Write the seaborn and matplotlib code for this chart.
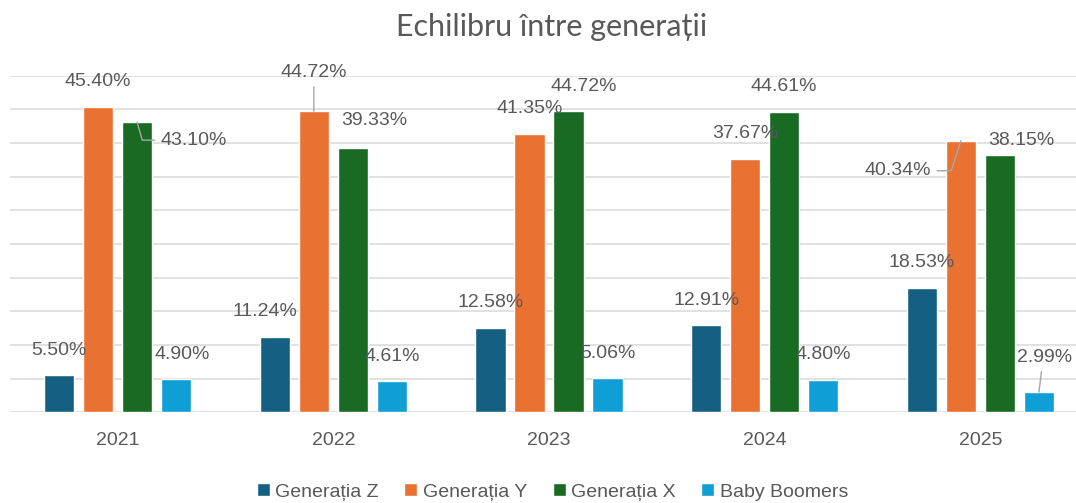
import matplotlib

matplotlib.use("Agg")
import matplotlib.pyplot as plt
import numpy as np
import pandas as pd
import seaborn as sns

YEARS = ["2021", "2022", "2023", "2024", "2025"]
GENERATIONS = ["Generația Z", "Generația Y", "Generația X", "Baby Boomers"]
GEN_Z = [5.50, 11.24, 12.58, 12.91, 18.53]
GEN_Y = [45.40, 44.72, 41.35, 37.67, 40.34]
GEN_X = [43.10, 39.33, 44.72, 44.61, 38.15]
BOOMERS = [4.90, 4.61, 5.06, 4.80, 2.99]

COLORS = ["#156082", "#E97132", "#196B24", "#0F9ED5"]
TEXT = "#595959"
GRID = "#D9D9D9"

# label offsets in pixels (dx, dy) for labels that Excel moved off the bar top
LABEL_SHIFT = {
    (2, 0): (57, -18),
    (3, 0): (6, 25),
    (0, 1): (-10, 25),
    (1, 1): (0, 39),
    (2, 1): (21, 27),
    (2, 2): (15, 25),
    (1, 4): (-63, -30),
    (2, 4): (21, 15),
    (3, 4): (6, 35),
}
# leader lines: relpos on the text, connection style
LEADERS = {
    (2, 0): ((0.0, 0.5), "angle,angleA=0,angleB=-74"),
    (1, 1): ((0.5, 0.0), "arc3,rad=0"),
    (1, 4): ((1.0, 0.5), "angle,angleA=0,angleB=72"),
    (3, 4): ((0.45, 0.0), "arc3,rad=0"),
}


def build_frame() -> pd.DataFrame:
    rows = []
    for gen, values in zip(GENERATIONS, [GEN_Z, GEN_Y, GEN_X, BOOMERS]):
        for year, v in zip(YEARS, values):
            rows.append({"year": year, "generation": gen, "share": v})
    return pd.DataFrame(rows)


def main() -> None:
    sns.set_theme(style="white")
    plt.rcParams["font.family"] = ["Liberation Sans", "DejaVu Sans"]

    df = build_frame()

    fig = plt.figure(figsize=(10.76, 5.03), dpi=100)
    ax = fig.add_axes([0.00906, 0.1803, 0.99094, 0.6692])

    sns.barplot(
        data=df,
        x="year",
        y="share",
        hue="generation",
        hue_order=GENERATIONS,
        palette=COLORS,
        width=0.723,
        gap=0.22,
        saturation=1,
        ax=ax,
    )

    handles, labels = ax.get_legend_handles_labels()
    ax.get_legend().remove()

    ax.set_xlim(-0.5, 4.443)
    ax.set_ylim(0, 50)
    ax.set_yticks(np.arange(0, 51, 5))
    ax.set_yticklabels([])
    ax.yaxis.grid(True, color=GRID, linewidth=1.1)
    ax.set_axisbelow(True)
    for side in ["top", "right", "left", "bottom"]:
        ax.spines[side].set_visible(False)
    ax.tick_params(axis="x", length=0, pad=14, labelsize=14, labelcolor=TEXT)
    ax.tick_params(axis="y", length=0)
    ax.set_xlabel("")
    ax.set_ylabel("")

    for si, container in enumerate(ax.containers):
        for yi, bar in enumerate(container):
            x = bar.get_x() + bar.get_width() / 2
            h = bar.get_height()
            dx, dy = LABEL_SHIFT.get((si, yi), (0, 25))
            kw = {}
            if (si, yi) in LEADERS:
                relpos, style = LEADERS[(si, yi)]
                kw["arrowprops"] = dict(
                    arrowstyle="-",
                    color="#A6A6A6",
                    lw=1.0,
                    relpos=relpos,
                    connectionstyle=style,
                    shrinkA=2,
                    shrinkB=0,
                )
            ax.annotate(
                f"{h:.2f}%",
                xy=(x, h),
                xytext=(dx, dy),
                textcoords="offset pixels",
                ha="center",
                va="center",
                fontsize=14,
                color=TEXT,
                **kw,
            )

    fig.text(
        0.513,
        0.947,
        "Echilibru între generații",
        ha="center",
        va="center",
        fontsize=22,
        color=TEXT,
        family=["Lato", "DejaVu Sans"],
    )

    fig.legend(
        handles,
        labels,
        loc="center",
        bbox_to_anchor=(0.5135, 0.022),
        ncol=4,
        frameon=False,
        fontsize=14,
        labelcolor=TEXT,
        handlelength=0.67,
        handleheight=0.67,
        handletextpad=0.3,
        columnspacing=1.3,
    )

    fig.savefig("out.png", dpi=100)
    plt.close(fig)


if __name__ == "__main__":
    main()
